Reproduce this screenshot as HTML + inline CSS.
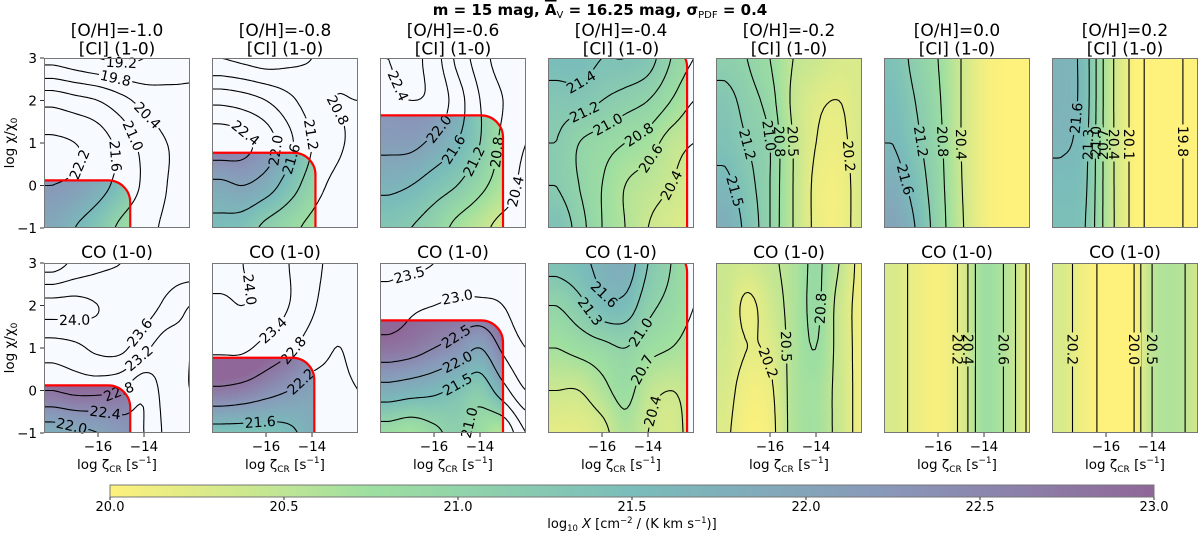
<!DOCTYPE html>
<html><head><meta charset="utf-8">
<style>
body{margin:0;background:#fff;width:1200px;height:533px;overflow:hidden;font-family:"DejaVu Sans","Liberation Sans",sans-serif;}
#wrap{position:relative;width:1200px;height:533px;}
canvas{position:absolute;}
svg{position:absolute;left:0;top:0;}
svg text{font-family:"DejaVu Sans","Liberation Sans",sans-serif;}
</style></head>
<body>
<div id="wrap">
<svg id="svg" width="1200" height="533"></svg>
</div>
<script>
// ---------- data ----------
const ohValues = ["-1.0","-0.8","-0.6","-0.4","-0.2","0.0","0.2"];
const xTicks = [-16,-14];
const yTicks = [3,2,1,0,-1];
const cbTicks = [20.0,20.5,21.0,21.5,22.0,22.5,23.0];
const gridX = [-18,-17,-16,-15,-14,-13,-12];
const gridY = [3,2,1,0,-1];
// [CI] grids (rows y=3..-1, cols x=-18..-12)
const ciGrid1 = [[19.6,19.4,19.2,19.1,19.2,19.5,19.7],[21.4,21.2,21.0,20.6,20.2,20.0,19.9],[22.3,22.2,21.9,21.4,20.8,20.4,20.2],[22.2,22.1,21.8,21.4,20.9,20.4,20.2],[21.9,21.6,21.3,20.9,20.6,20.3,20.2]];
const ciGrid2 = [[20.8,20.7,20.6,20.7,20.8,20.9,21.0],[21.9,21.8,21.6,21.3,21.0,20.8,20.8],[22.6,22.5,22.2,21.7,21.2,20.9,20.7],[21.9,22.0,21.8,21.4,21.0,20.7,20.6],[21.5,21.4,21.1,20.9,20.7,20.5,20.5]];
const ciGrid3 = [[22.4,22.5,22.2,21.5,21.0,20.6,20.5],[22.3,22.4,22.3,21.8,21.2,20.8,20.5],[22.1,22.1,21.9,21.6,21.2,20.7,20.4],[21.7,21.6,21.4,21.2,20.9,20.6,20.3],[21.3,21.2,21.0,20.7,20.5,20.3,20.3]];
const ciGrid4 = [[21.5,21.5,21.4,21.4,21.3,21.0,20.8],[21.3,21.3,21.2,21.1,21.0,20.8,20.6],[21.2,21.0,20.9,20.8,20.7,20.5,20.4],[21.2,21.0,20.8,20.6,20.5,20.4,20.3],[21.4,21.1,20.8,20.6,20.4,20.3,20.2]];
const ciGrid5 = [[21.1,21.0,20.8,20.5,20.4,20.3,20.3],[21.3,21.1,20.9,20.45,20.25,20.2,20.3],[21.4,21.2,21.0,20.5,20.2,20.15,20.3],[21.6,21.3,21.0,20.5,20.15,20.1,20.3],[21.8,21.4,21.0,20.5,20.15,20.1,20.3]];
const ciGrid6 = [[21.4,21.1,20.8,20.4,20.1,20.0,20.0],[21.5,21.2,20.85,20.4,20.1,20.0,20.0],[21.6,21.3,20.9,20.4,20.1,20.0,20.0],[21.8,21.45,20.95,20.42,20.1,20.0,20.0],[22.0,21.6,21.0,20.45,20.1,20.0,20.0]];
const ciGrid7 = [[21.7,21.5,20.6,20.1,19.7,19.75,19.9],[21.7,21.5,20.6,20.1,19.7,19.75,19.9],[21.65,21.45,20.6,20.1,19.7,19.75,19.9],[21.5,21.4,20.6,20.1,19.7,19.75,19.9],[21.45,21.35,20.6,20.1,19.7,19.75,19.9]];
// CO grids
const coGrid1 = [[23.0,23.3,23.5,23.6,23.7,23.8,23.9],[24.1,24.1,24.0,23.9,23.8,23.5,23.2],[23.4,23.5,23.7,23.7,23.3,23.0,23.2],[22.8,22.9,22.9,22.8,22.5,23.0,23.2],[21.8,21.9,22.0,22.2,22.4,22.9,23.1]];
const coGrid2 = [[24.2,24.0,23.8,23.4,23.0,22.6,22.4],[23.9,24.0,23.8,23.4,22.9,22.4,22.3],[23.5,23.5,23.2,22.9,22.5,22.2,22.3],[22.7,22.6,22.4,22.2,22.0,22.1,22.2],[21.4,21.4,21.4,21.5,21.8,22.0,22.2]];
const coGrid3 = [[23.6,23.6,23.5,23.3,23.2,23.1,23.2],[23.3,23.1,23.0,22.9,22.9,23.0,23.2],[22.8,22.7,22.5,22.3,22.0,22.6,23.0],[21.8,21.7,21.6,21.4,21.2,21.8,22.5],[20.8,20.7,20.9,21.1,20.8,20.6,21.5]];
const coGrid4 = [[21.4,21.5,21.7,21.8,21.3,21.0,20.7],[21.0,21.2,21.5,21.5,21.1,20.9,20.7],[20.7,20.8,20.9,21.0,20.8,20.7,20.6],[20.4,20.4,20.6,20.8,20.5,20.4,20.5],[20.2,20.2,20.3,20.6,20.4,20.3,20.5]];
const coGrid5 = [[20.4,20.35,20.45,20.6,20.85,20.5,20.1],[20.4,20.15,20.35,20.6,20.85,20.4,20.1],[20.35,20.2,20.25,20.6,20.8,20.4,20.1],[20.3,20.1,20.15,20.6,20.7,20.4,20.1],[20.25,20.05,20.1,20.6,20.7,20.4,20.1]];
const coGrid6 = [[20.3,20.15,20.05,20.25,20.75,20.55,20.15],[20.3,20.15,20.05,20.25,20.75,20.55,20.15],[20.3,20.15,20.05,20.25,20.75,20.55,20.15],[20.3,20.15,20.05,20.25,20.75,20.55,20.15],[20.3,20.15,20.05,20.25,20.75,20.55,20.15]];
const coGrid7 = [[20.3,20.1,19.95,19.9,20.5,20.6,20.35],[20.3,20.1,19.95,19.9,20.5,20.6,20.35],[20.3,20.1,19.95,19.9,20.5,20.6,20.35],[20.3,20.1,19.95,19.9,20.5,20.6,20.35],[20.3,20.1,19.95,19.9,20.5,20.6,20.35]];
const ciLevels = [[19.2,19.8,20.4,21.0,21.6,22.2],[20.8,21.2,21.6,22.0,22.4],[20.4,20.8,21.2,21.6,22.0,22.4],[20.4,20.6,20.8,21.0,21.2,21.4],[20.2,20.5,20.8,21.0,21.2,21.5],[20.4,20.8,21.2,21.6],[19.8,20.1,20.4,20.7,21.0,21.3,21.6]];
const coLevels = [[22.0,22.4,22.8,23.2,23.6,24.0],[21.6,22.2,22.8,23.4,24.0],[21.0,21.5,22.0,22.5,23.0,23.5],[20.4,20.7,21.0,21.3,21.6],[20.2,20.5,20.8],[20.2,20.4,20.6],[20.0,20.2,20.5]];
// mask corner (log zeta, log chi) of valid region; Infinity = no mask
const ciMaskX = [-14.6,-13.85,-13.0,-12.3,Infinity,Infinity,Infinity];
const ciMaskY = [0.12,0.77,1.65,3.3,Infinity,Infinity,Infinity];
const coMaskX = [-14.6,-13.9,-13.0,-12.3,Infinity,Infinity,Infinity];
const coMaskY = [0.12,0.77,1.65,3.3,Infinity,Infinity,Infinity];

const ciGrids=[ciGrid1,ciGrid2,ciGrid3,ciGrid4,ciGrid5,ciGrid6,ciGrid7];
const coGrids=[coGrid1,coGrid2,coGrid3,coGrid4,coGrid5,coGrid6,coGrid7];

// ---------- layout ----------
const XMIN=-18.35, XMAX=-12, YMIN=-1, YMAX=3;
const PW=146, PH=170, COL0=44, PITCH=168, ROWY=[58,263];
const NS="http://www.w3.org/2000/svg";
const svg=document.getElementById('svg');
function el(tag,attrs,parent){const e=document.createElementNS(NS,tag);for(const k in attrs)e.setAttribute(k,attrs[k]);(parent||svg).appendChild(e);return e;}
function xs(x,x0){return x0+(x-XMIN)/(XMAX-XMIN)*PW;}
function ys(y,y0){return y0+(YMAX-y)/(YMAX-YMIN)*PH;}

const vir=[[143,103,152],[137,151,185],[122,189,186],[158,223,161],[254,241,124]];
function color(v){let t=(23-v)/3;t=Math.max(0,Math.min(1,t));const s=t*4;const i=Math.min(3,Math.floor(s));const f=s-i;
 return vir[i].map((c,k)=>Math.round(c+(vir[i+1][k]-c)*f));}
function cub(p0,p1,p2,p3,t){return p1+0.5*t*(p2-p0+t*(2*p0-5*p1+4*p2-p3+t*(3*(p1-p2)+p3-p0)));}
function sample(g,x,y){
 let cx=(x-gridX[0])/(gridX[1]-gridX[0]); let cy=(gridY[0]-y)/(gridY[0]-gridY[1]);
 cx=Math.max(0,Math.min(gridX.length-1,cx)); cy=Math.max(0,Math.min(gridY.length-1,cy));
 const ix=Math.min(gridX.length-2,Math.floor(cx)), iy=Math.min(gridY.length-2,Math.floor(cy));
 const fx=cx-ix, fy=cy-iy;
 const R=r=>g[Math.max(0,Math.min(gridY.length-1,r))];
 const C=(row,c)=>row[Math.max(0,Math.min(gridX.length-1,c))];
 const rows=[];for(let j=-1;j<=2;j++){const row=R(iy+j);rows.push(cub(C(row,ix-1),C(row,ix),C(row,ix+1),C(row,ix+2),fx));}
 return cub(rows[0],rows[1],rows[2],rows[3],fy);
}
function inside(px,py,x0,y0,mx,my){
 const r=22; const ex=xs(mx,x0), ey=ys(my,y0);
 if(px>ex||py<ey) return false;
 if(px>ex-r&&py<ey+r){const dx=px-(ex-r),dy=py-(ey+r);return dx*dx+dy*dy<=r*r;}
 return true;
}

function drawPanel(row,c,g,levels,mx,my){
 const x0=COL0+PITCH*c, y0=ROWY[row];
 const cv=document.createElement('canvas');cv.width=PW;cv.height=PH;cv.style.left=x0+'px';cv.style.top=y0+'px';
 
 
 document.getElementById('wrap').insertBefore(cv,svg);
 const ctx=cv.getContext('2d');const im=ctx.createImageData(PW,PH);
 for(let py=0;py<PH;py++)for(let px=0;px<PW;px++){
  const x=XMIN+(px+0.5)/PW*(XMAX-XMIN), y=YMAX-(py+0.5)/PH*(YMAX-YMIN);
  let col=[247,251,255];
  if(inside(x0+px+0.5,y0+py+0.5,x0,y0,mx,my)) col=color(sample(g,x,y));
  const k=(py*PW+px)*4;im.data[k]=col[0];im.data[k+1]=col[1];im.data[k+2]=col[2];im.data[k+3]=255;}
 ctx.putImageData(im,0,0);
 const grp=el('g',{});
 
 
 const id=row+'_'+c;
 const cp=el('clipPath',{id:'clip'+id},grp);el('rect',{x:x0,y:y0,width:PW,height:PH},cp);
 const mk=el('mask',{id:'mask'+id,maskUnits:'userSpaceOnUse',x:x0-5,y:y0-5,width:PW+10,height:PH+10},grp);
 el('rect',{x:x0-5,y:y0-5,width:PW+10,height:PH+10,fill:'#fff'},mk);
 const lineG=el('g',{mask:'url(#mask'+id+')','clip-path':'url(#clip'+id+')'},grp);
 // contours
 const NX=50,NY=58;const F=[];
 for(let j=0;j<=NY;j++){F.push([]);for(let i=0;i<=NX;i++)F[j].push(sample(g,XMIN+i/NX*(XMAX-XMIN),YMAX-j/NY*(YMAX-YMIN)));}
 const PX=i=>x0+i/NX*PW, PY=j=>y0+j/NY*PH;
 levels.forEach(L=>{
  let d='';const segs=[];
  for(let j=0;j<NY;j++){for(let i=0;i<NX;i++){
   const a=F[j][i],b=F[j][i+1],c2=F[j+1][i+1],d2=F[j+1][i];
   const pts=[];
   const e=(v1,v2,p1,p2)=>{if((v1<L)!==(v2<L)){const t=(L-v1)/(v2-v1);pts.push([p1[0]+(p2[0]-p1[0])*t,p1[1]+(p2[1]-p1[1])*t]);}};
   e(a,b,[PX(i),PY(j)],[PX(i+1),PY(j)]);e(b,c2,[PX(i+1),PY(j)],[PX(i+1),PY(j+1)]);
   e(c2,d2,[PX(i+1),PY(j+1)],[PX(i),PY(j+1)]);e(d2,a,[PX(i),PY(j+1)],[PX(i),PY(j)]);
   for(let k=0;k+1<pts.length;k+=2){segs.push([pts[k],pts[k+1]]);d+='M'+pts[k][0].toFixed(1)+' '+pts[k][1].toFixed(1)+'L'+pts[k+1][0].toFixed(1)+' '+pts[k+1][1].toFixed(1);}
  }}
  if(!segs.length)return;
  const p=el('path',{d:d,stroke:'#000','stroke-width':1.1,fill:'none'},lineG);
  
  
  let mxm=0,mym=0;segs.forEach(s=>{mxm+=(s[0][0]+s[1][0])/2;mym+=(s[0][1]+s[1][1])/2;});mxm/=segs.length;mym/=segs.length;
  let best=segs[0],bd=1e9;segs.forEach(s=>{const qx=(s[0][0]+s[1][0])/2,qy=(s[0][1]+s[1][1])/2;const q=(qx-mxm)**2+(qy-mym)**2;if(q<bd){bd=q;best=s;}});
  const lx=(best[0][0]+best[1][0])/2,ly=(best[0][1]+best[1][1])/2;
  let ang=Math.atan2(best[1][1]-best[0][1],best[1][0]-best[0][0])*180/Math.PI;
  if(ang>90)ang-=180;if(ang<-90)ang+=180;
  const tr=`rotate(${ang.toFixed(1)} ${lx.toFixed(1)} ${ly.toFixed(1)})`;
  el('rect',{x:lx-17,y:ly-7,width:34,height:14,fill:'#000',transform:tr},mk);
  const t=el('text',{x:lx,y:ly+5,'font-size':14,'text-anchor':'middle',transform:tr,fill:'#000'},grp);
  t.textContent=L.toFixed(1);
  
  
 });
 // red boundary
 if(isFinite(mx)){
  const ex=xs(mx,x0),ey=ys(my,y0),r=22;
  const rp=el('path',{d:`M${x0} ${ey}L${ex-r} ${ey}A${r} ${r} 0 0 1 ${ex} ${ey+r}L${ex} ${y0+PH}`,stroke:'#f00','stroke-width':2.2,fill:'none','clip-path':'url(#clip'+id+')'},grp);
  
  
 }
 const fr=el('rect',{x:x0+0.5,y:y0+0.5,width:PW-1,height:PH-1,fill:'none',stroke:'#777','stroke-width':1},grp);
 
 
 // titles
 const cx=x0+PW/2;
 if(row===0){
  const t1=el('text',{x:cx,y:36,'font-size':17,'text-anchor':'middle'},grp);t1.textContent='[O/H]='+ohValues[c];
  
  
  const t2=el('text',{x:cx,y:54.5,'font-size':17,'text-anchor':'middle'},grp);t2.textContent='[CI] (1-0)';
  
  
 } else {
  const t2=el('text',{x:cx,y:258,'font-size':17,'text-anchor':'middle'},grp);t2.textContent='CO (1-0)';
  
  
  xTicks.forEach(v=>{const px=xs(v,x0);el('line',{x1:px,x2:px,y1:y0+PH,y2:y0+PH+4,stroke:'#333'},grp);
   const tk=el('text',{x:px,y:y0+PH+18,'font-size':13.5,'text-anchor':'middle'},grp);tk.textContent='\u2212'+Math.abs(v);
   
   });
  const xl=el('text',{x:cx,y:y0+PH+36,'font-size':13.5,'text-anchor':'middle'},grp);
  xl.innerHTML='log \u03b6<tspan font-size="9" dy="3">CR</tspan><tspan dy="-3"> [s</tspan><tspan font-size="9" dy="-6">\u22121</tspan><tspan dy="6">]</tspan>';
  
  
 }
 if(c===0){
  yTicks.forEach(v=>{const py=ys(v,y0);el('line',{x1:x0-4,x2:x0,y1:py,y2:py,stroke:'#333'},grp);
   const tk=el('text',{x:x0-7,y:py+5,'font-size':13.5,'text-anchor':'end'},grp);tk.textContent=v<0?'\u2212'+Math.abs(v):String(v);
   
   });
  const yl=el('text',{x:0,y:0,'font-size':13.5,'text-anchor':'middle',transform:`translate(14 ${y0+PH/2}) rotate(-90)`},grp);
  yl.innerHTML='log \u03c7/\u03c7<tspan font-size="9" dy="3">0</tspan>';
  
  
 }
}

for(let c=0;c<7;c++){drawPanel(0,c,ciGrids[c],ciLevels[c],ciMaskX[c],ciMaskY[c]);drawPanel(1,c,coGrids[c],coLevels[c],coMaskX[c],coMaskY[c]);}

// title
const ttl=el('text',{x:600,y:15,'font-size':15,'font-weight':'bold','text-anchor':'middle'});
ttl.innerHTML='m = 15 mag, <tspan text-decoration="overline">A</tspan><tspan font-size="10" dy="3" font-weight="normal">V</tspan><tspan dy="-3"> = 16.25 mag, \u03c3</tspan><tspan font-size="10" dy="3" font-weight="normal">PDF</tspan><tspan dy="-3"> = 0.4</tspan>';



// colorbar
const CBX0=110,CBX1=1154,CBY=485,CBH=12;
const defs=el('defs',{});const lg=el('linearGradient',{id:'cbg',x1:0,x2:1,y1:0,y2:0},defs);
for(let i=0;i<=12;i++){const v=20+i*0.25;const cc=color(v);el('stop',{offset:i/12,'stop-color':`rgb(${cc[0]},${cc[1]},${cc[2]})`},lg);}
const cb=el('rect',{x:CBX0,y:CBY,width:CBX1-CBX0,height:CBH,fill:'url(#cbg)',stroke:'#777','stroke-width':1});


cbTicks.forEach(v=>{const px=CBX0+(v-20)/3*(CBX1-CBX0);el('line',{x1:px,x2:px,y1:CBY+CBH,y2:CBY+CBH+3,stroke:'#333'});
 const t=el('text',{x:px,y:511,'font-size':13,'text-anchor':'middle'});t.textContent=v.toFixed(1);
 
 });
const cl=el('text',{x:(CBX0+CBX1)/2,y:528,'font-size':13,'text-anchor':'middle'});
cl.innerHTML='log<tspan font-size="8.5" dy="3">10</tspan><tspan dy="-3"> </tspan><tspan font-style="italic">X</tspan> [cm<tspan font-size="8.5" dy="-5">\u22122</tspan><tspan dy="5"> / (K km s</tspan><tspan font-size="8.5" dy="-5">\u22121</tspan><tspan dy="5">)]</tspan>';


</script>
</body></html>
